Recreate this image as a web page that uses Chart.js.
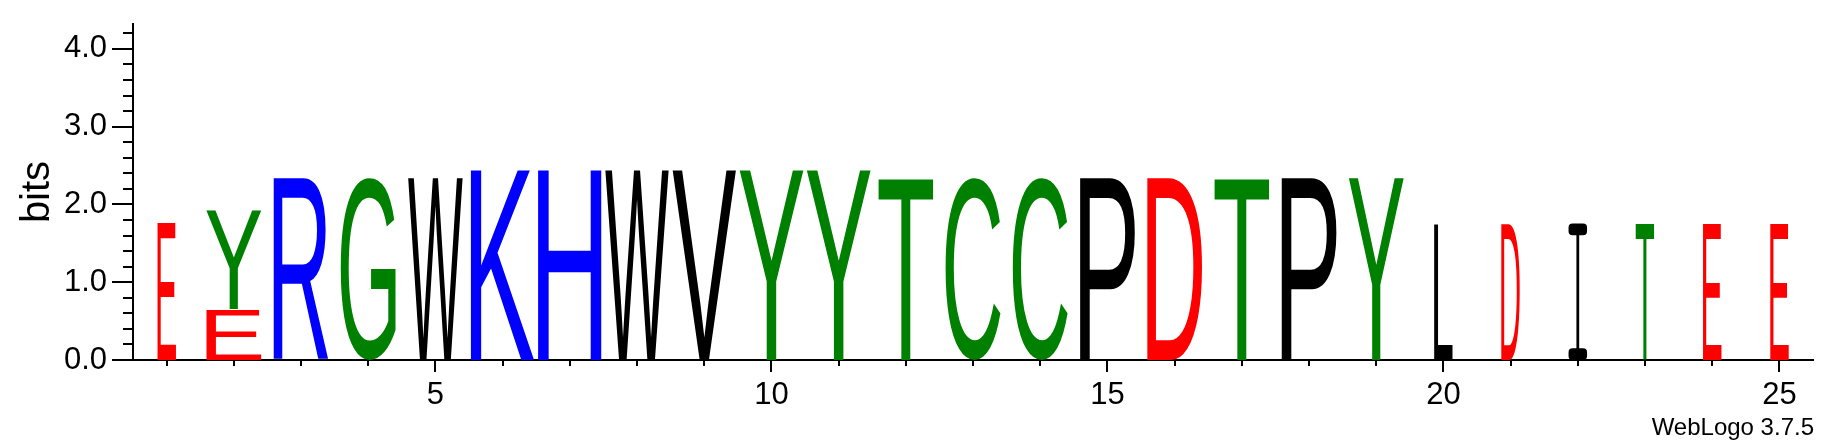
<!DOCTYPE html>
<html>
<head>
<meta charset="utf-8">
<title>WebLogo</title>
<script src="https://cdn.jsdelivr.net/npm/chart.js@4.4.1/dist/chart.umd.min.js"></script>
<style>
  html, body { margin: 0; padding: 0; background: #ffffff; }
  #logo { display: block; }
</style>
</head>
<body>
<canvas id="logo" width="1840" height="444"></canvas>
<script>
// ======================================================
// Data read off the logo
// ======================================================

// sequence positions on the x axis
const positions = ["1", "2", "3", "4", "5", "6", "7", "8", "9", "10",
                   "11", "12", "13", "14", "15", "16", "17", "18", "19", "20",
                   "21", "22", "23", "24", "25"];

// letters of each stack, bottom to top
const stackLetters = [["E"], ["E", "Y"], ["R"], ["G"], ["W"], ["K"], ["H"], ["W"], ["V"], ["Y"],
                      ["Y"], ["T"], ["C"], ["C"], ["P"], ["D"], ["T"], ["P"], ["Y"], ["L"],
                      ["D"], ["I"], ["T"], ["E"], ["E"]];

// height of each letter in bits, bottom to top
const stackBits = [[1.77], [0.64, 1.29], [2.35], [2.35], [2.35], [2.45], [2.45], [2.45], [2.45], [2.45],
                   [2.45], [2.35], [2.35], [2.35], [2.35], [2.35], [2.35], [2.35], [2.35], [1.76],
                   [1.76], [1.76], [1.76], [1.76], [1.76]];

// stack width as a share of a full column (gapped columns are narrower)
const stackWidths = [0.29, 0.86, 0.86, 0.86, 0.86, 1, 1, 1, 1, 1,
                     1, 0.86, 0.86, 0.86, 0.86, 0.86, 0.86, 0.86, 0.86, 0.29,
                     0.29, 0.29, 0.29, 0.29, 0.29];

// y axis ticks in bits
const yTicks = [0.0, 0.2, 0.4, 0.6, 0.8, 1.0, 1.2, 1.4, 1.6, 1.8, 2.0,
                2.2, 2.4, 2.6, 2.8, 3.0, 3.2, 3.4, 3.6, 3.8, 4.0, 4.2];

const yMax = 4.32;

// ======================================================
// Styles
// ======================================================

const letterColours = {
    G: "#008000", S: "#008000", T: "#008000", Y: "#008000", C: "#008000", Q: "#008000", N: "#008000",
    K: "#0000ff", R: "#0000ff", H: "#0000ff",
    D: "#ff0000", E: "#ff0000",
    A: "#000000", V: "#000000", L: "#000000", I: "#000000", P: "#000000", W: "#000000", F: "#000000", M: "#000000"
};

const FONT = '"Liberation Sans", Arial, Helvetica, sans-serif';

const INK_SHARE = 0.95;

// ======================================================
// Datasets (one per rank inside the stacks)
// ======================================================

const depth = Math.max(...stackLetters.map(s => s.length));

const datasets = [];

for (let r = 0; r < depth; r++) {

    datasets.push({
        label: "rank " + r,
        data: stackBits.map(s => s[r] || 0),
        letters: stackLetters.map(s => s[r] || ""),
        backgroundColor: "rgba(0,0,0,0)",
        borderWidth: 0,
        barPercentage: 1,
        categoryPercentage: 1,
        stack: "logo"
    });

}

// ======================================================
// Glyph drawing
// ======================================================

function roundRect(ctx, x, y, w, h, r) {

    r = Math.min(r, w / 2, h / 2);
    ctx.moveTo(x + r, y);
    ctx.arcTo(x + w, y, x + w, y + h, r);
    ctx.arcTo(x + w, y + h, x, y + h, r);
    ctx.arcTo(x, y + h, x, y, r);
    ctx.arcTo(x, y, x + w, y, r);
    ctx.closePath();

}

// the logo font draws I with cross bars, so it gets its own shape
function drawCapitalI(ctx, colour, left, top, width, height) {

    const bar = height * 0.086;
    const stem = Math.max(2.5, width * 0.15);

    ctx.save();
    ctx.fillStyle = colour;
    ctx.beginPath();
    roundRect(ctx, left, top, width, bar, bar * 0.35);
    roundRect(ctx, left, top + height - bar, width, bar, bar * 0.35);
    ctx.rect(left + width / 2 - stem / 2, top + bar - 1, stem, height - 2 * bar + 2);
    ctx.fill();
    ctx.restore();

}

function drawGlyph(ctx, ch, colour, left, top, width, height) {

    if (width <= 0 || height <= 0) return;

    if (ch === "I") {
        drawCapitalI(ctx, colour, left, top, width, height);
        return;
    }

    ctx.save();

    ctx.font = "200px " + FONT;
    ctx.textAlign = "left";
    ctx.textBaseline = "alphabetic";

    const m = ctx.measureText(ch);
    const inkW = m.actualBoundingBoxLeft + m.actualBoundingBoxRight;
    const inkH = m.actualBoundingBoxAscent + m.actualBoundingBoxDescent;

    ctx.translate(left, top);
    ctx.scale(width / inkW, height / inkH);
    ctx.fillStyle = colour;
    ctx.fillText(ch, m.actualBoundingBoxLeft, m.actualBoundingBoxAscent);

    ctx.restore();

}

const glyphPlugin = {

    id: "glyphs",

    afterDatasetsDraw(chart) {

        const ctx = chart.ctx;

        chart.data.datasets.forEach((ds, i) => {

            const meta = chart.getDatasetMeta(i);

            meta.data.forEach((bar, j) => {

                const ch = ds.letters[j];

                if (!ch || !ds.data[j]) return;

                const w = bar.width * INK_SHARE * stackWidths[j];
                const top = Math.min(bar.y, bar.base);
                const bottom = Math.max(bar.y, bar.base);
                const gap = i > 0 ? 1 : 0;

                drawGlyph(ctx, ch, letterColours[ch] || "#000", bar.x - w / 2, top + 0.5, w, bottom - top - gap - 0.5);

            });

        });

    }

};

// ======================================================
// Tick marks and footer
// ======================================================

const tickPlugin = {

    id: "tickMarks",

    afterDraw(chart) {

        const ctx = chart.ctx;
        const x = chart.scales.x;
        const y = chart.scales.y;

        ctx.save();
        ctx.strokeStyle = "#000";
        ctx.lineWidth = 2;
        ctx.beginPath();

        yTicks.forEach(v => {

            const py = Math.round(y.getPixelForValue(v));
            const major = Math.abs(v - Math.round(v)) < 1e-6;
            const len = major ? 21 : 10;

            ctx.moveTo(chart.chartArea.left - len, py);
            ctx.lineTo(chart.chartArea.left, py);

        });

        positions.forEach((p, i) => {

            const px = Math.round(x.getPixelForValue(i));
            const len = Number(p) % 5 === 0 ? 12 : 6;

            ctx.moveTo(px, chart.chartArea.bottom);
            ctx.lineTo(px, chart.chartArea.bottom + len);

        });

        ctx.stroke();

        ctx.fillStyle = "#000";
        ctx.font = "24px " + FONT;
        ctx.textAlign = "right";
        ctx.textBaseline = "alphabetic";
        ctx.fillText("WebLogo 3.7.5", 1814, 435);

        ctx.restore();

    }

};

// ======================================================
// Chart
// ======================================================

new Chart(document.querySelector("#logo"), {

    type: "bar",

    data: {
        labels: positions,
        datasets: datasets
    },

    options: {

        responsive: false,
        animation: false,
        devicePixelRatio: 1,

        layout: {
            padding: { top: 24, right: 27, left: 0, bottom: 0 }
        },

        plugins: {
            legend: { display: false },
            tooltip: { enabled: false }
        },

        scales: {

            x: {
                stacked: true,
                offset: true,
                grid: { display: false, drawTicks: false },
                border: { display: true, color: "#000", width: 2 },
                ticks: {
                    autoSkip: false,
                    maxRotation: 0,
                    minRotation: 0,
                    padding: 17,
                    color: "#000",
                    font: { family: FONT, size: 31 },
                    callback: (v, i) => Number(positions[i]) % 5 === 0 ? positions[i] : ""
                },
                afterFit: scale => {
                    scale.height = 84;
                    scale.paddingLeft = 0;
                    scale.paddingRight = 0;
                }
            },

            y: {
                stacked: true,
                min: 0,
                max: yMax,
                grid: { display: false, drawTicks: false },
                border: { display: true, color: "#000", width: 2 },
                afterBuildTicks: scale => {
                    scale.ticks = yTicks.map(v => ({ value: v }));
                },
                ticks: {
                    autoSkip: false,
                    padding: 26,
                    color: "#000",
                    font: { family: FONT, size: 31 },
                    callback: v => Math.abs(v - Math.round(v)) < 1e-6 ? v.toFixed(1) : ""
                },
                title: {
                    display: true,
                    text: "bits",
                    color: "#000",
                    font: { family: FONT, size: 40 },
                    padding: { top: 14, bottom: 0 }
                },
                afterFit: scale => {
                    scale.width = 133;
                    scale.paddingTop = 0;
                    scale.paddingBottom = 0;
                }
            }

        }

    },

    plugins: [glyphPlugin, tickPlugin]

});
</script>
</body>
</html>
